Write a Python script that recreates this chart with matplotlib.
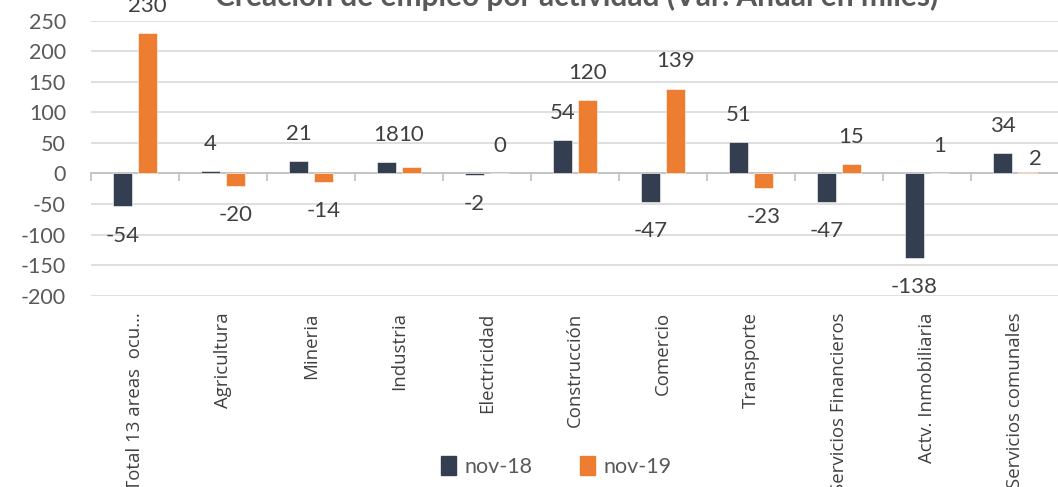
import matplotlib
matplotlib.use("Agg")
import matplotlib.pyplot as plt
import numpy as np
from matplotlib.patches import Patch

categories = ["Total 13 areas  ocu…", "Agricultura", "Mineria", "Industria", "Electricidad",
              "Construcción", "Comercio", "Transporte", "Servicios Financieros",
              "Actv. Inmobiliaria", "Servicios comunales"]
nov18 = [-54, 4, 21, 18, -2, 54, -47, 51, -47, -138, 34]
nov19 = [230, -20, -14, 10, 0, 120, 139, -23, 15, 1, 2]
series_names = ["nov-18", "nov-19"]
yticks = [-200, -150, -100, -50, 0, 50, 100, 150, 200, 250]

C18 = "#333F50"
C19 = "#ED7D31"
TXT = "#595959"
LBL = "#404040"

plt.rcParams['font.family'] = ['Lato', 'DejaVu Sans']

fig = plt.figure(figsize=(10.58, 4.87), dpi=100)
ax = fig.add_axes([91/1058, 1-295.7/487, 968/1058, (295.7-20.7)/487])

x = np.arange(len(categories))
w = 0.215
off = 0.142
ax.bar(x - off, nov18, w, color=C18, edgecolor="white", linewidth=0.4, zorder=3)
ax.bar(x + off, nov19, w, color=C19, edgecolor="white", linewidth=0.4, zorder=3)

ax.set_xlim(-0.5, len(categories) - 0.5)
ax.set_ylim(-200, 250)
ax.set_yticks(yticks)
ax.set_yticklabels([str(v) for v in yticks])
ax.tick_params(axis='y', length=0, pad=18, labelsize=15.5, labelcolor=TXT)
ax.yaxis.grid(True, color="#D9D9D9", linewidth=1.2, zorder=0)
ax.set_axisbelow(True)
for s in ["top", "right", "left"]:
    ax.spines[s].set_visible(False)

# zero axis line with boundary ticks
ax.spines['bottom'].set_position(('data', 0))
ax.spines['bottom'].set_color("#BFBFBF")
ax.spines['bottom'].set_linewidth(1.2)
ax.spines['bottom'].set_zorder(2)
ax.set_xticks(x)
ax.set_xticklabels([])
ax.tick_params(axis='x', which='major', length=0)
ax.set_xticks(np.arange(len(categories) + 1) - 0.5, minor=True)
ax.tick_params(axis='x', which='minor', length=6, width=1.2, color="#BFBFBF", direction='out')

# category labels at the bottom
sec = ax.secondary_xaxis(0.0)
sec.set_xticks(x)
sec.set_xticklabels(categories, rotation=90, family=['Open Sans', 'DejaVu Sans'],
                    fontsize=13.4, color=LBL)
sec.tick_params(length=0, pad=12)
sec.spines['bottom'].set_visible(False)

# data labels
overrides = {(1, 3): (0, 23.6), (1, 10): (5.4, 9.2)}
for si, vals in enumerate([nov18, nov19]):
    for i, v in enumerate(vals):
        xi = x[i] + (off if si == 1 else -off)
        dx, dy = (0, 19.5) if v >= 0 else (0, -21)
        if (si, i) in overrides:
            dx, dy = overrides[(si, i)]
        ax.annotate(str(v), (xi, v), xytext=(dx, dy), textcoords='offset points',
                    ha='center', va='center', fontsize=16, color=LBL,
                    annotation_clip=False)

fig.text(0.545, 1 - 6/487, "Creación de empleo por actividad (Var. Anual en miles)",
         ha='center', va='baseline', fontsize=21.5, fontweight='bold', color=TXT)

handles = [Patch(color=C18), Patch(color=C19)]
fig.legend(handles, series_names, loc='center', bbox_to_anchor=(0.526, 0.043),
           ncol=2, frameon=False, fontsize=15.5, labelcolor=TXT,
           handlelength=0.7, handleheight=1.0, handletextpad=0.4, columnspacing=2.2)

fig.savefig("out.png", dpi=100)
